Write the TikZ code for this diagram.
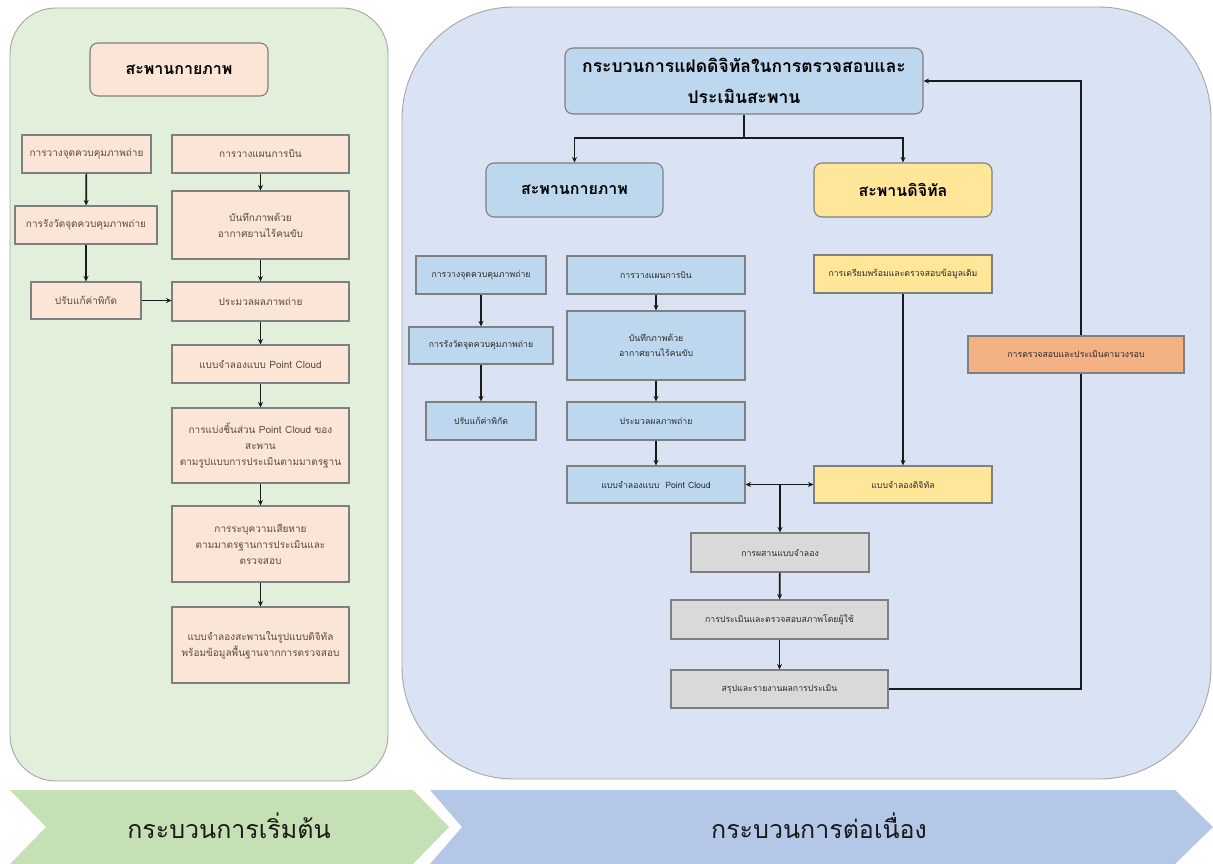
\documentclass[tikz,border=0pt]{standalone}
\usepackage{fontspec}
\setmainfont[Script=Thai]{Loma}
\usetikzlibrary{arrows.meta}
\definecolor{leftpanel}{HTML}{E2EFDA}
\definecolor{rightpanel}{HTML}{DAE3F3}
\definecolor{panelline}{HTML}{A5A5A5}
\definecolor{peach}{HTML}{FBE5D6}
\definecolor{bluebox}{HTML}{BDD7EE}
\definecolor{yellowbox}{HTML}{FFE699}
\definecolor{orangebox}{HTML}{F4B183}
\definecolor{graybox}{HTML}{D9D9D9}
\definecolor{boxline}{HTML}{7F7F7F}
\definecolor{ltext}{HTML}{594A44}
\definecolor{rtext}{HTML}{2A2A2A}
\definecolor{arrowc}{HTML}{1A1A1A}
\definecolor{chevgreen}{HTML}{C5E0B4}
\definecolor{chevblue}{HTML}{B4C7E7}
\tikzset{
  pbox/.style={draw=boxline, line width=1.1pt, fill=peach, text=ltext, align=center, inner sep=2pt, font=\fontsize{10}{16}\selectfont},
  ptitle/.style={pbox, rounded corners=8pt, text=black, font=\bfseries\fontsize{16}{20}\selectfont},
  bbox/.style={draw=boxline, line width=1.1pt, fill=bluebox, text=rtext, align=center, inner sep=2pt, font=\fontsize{8.7}{15}\selectfont},
  btitle/.style={bbox, rounded corners=8pt, text=black, font=\bfseries\fontsize{16}{24}\selectfont},
  ttitle/.style={bbox, rounded corners=8pt, text=black, font=\bfseries\fontsize{17.5}{31}\selectfont},
  ybox/.style={bbox, fill=yellowbox},
  ytitle/.style={btitle, fill=yellowbox},
  obox/.style={bbox, fill=orangebox},
  gbox/.style={bbox, fill=graybox},
  arr/.style={-{Stealth[length=5.5pt,width=5pt]}, line width=1.7pt, draw=arrowc},
  dline/.style={line width=1.7pt, draw=arrowc},
  darr/.style={{Stealth[length=5.5pt,width=5pt]}-{Stealth[length=5.5pt,width=5pt]}, line width=1.7pt, draw=arrowc},
  chevtext/.style={text=black!90, font=\fontsize{25}{30}\selectfont}
}
\begin{document}
\begin{tikzpicture}[x=1pt,y=-1pt]
\useasboundingbox (0,0) rectangle (1213,863);
\fill[white] (0,0) rectangle (1213,863);
% panels
\draw[draw=panelline, line width=0.9pt, fill=leftpanel, rounded corners=46pt] (10,8) rectangle (388,781);
\draw[draw=panelline, line width=0.9pt, fill=rightpanel, rounded corners=112pt] (402,7) rectangle (1211,779);
% chevrons
\fill[chevgreen] (10,790) -- (413,790) -- (449,827) -- (413,864) -- (10,864) -- (46,827) -- cycle;
\fill[chevblue] (430,790) -- (1175,790) -- (1213,827) -- (1175,864) -- (430,864) -- (462,827) -- cycle;
\node[chevtext] (start) at (229,826) {กระบวนการเริ่มต้น};
\node[chevtext] (cont) at (819,826) {กระบวนการต่อเนื่อง};

% ===== left panel =====
\node[ptitle, minimum width=178pt, minimum height=53pt] (Lt) at (179,69.5) {สะพานกายภาพ};
\node[pbox, minimum width=129pt, minimum height=38pt] (L1) at (86.5,154) {การวางจุดควบคุมภาพถ่าย};
\node[pbox, minimum width=142pt, minimum height=38pt] (L2) at (86,225) {การรังวัดจุดควบคุมภาพถ่าย};
\node[pbox, minimum width=110pt, minimum height=37pt] (L3) at (86,300.5) {ปรับแก้ค่าพิกัด};
\node[pbox, minimum width=177pt, minimum height=38pt] (R1) at (260.5,154) {การวางแผนการบิน};
\node[pbox, minimum width=177pt, minimum height=68pt] (R2) at (260.5,225) {บันทึกภาพด้วย\\อากาศยานไร้คนขับ};
\node[pbox, minimum width=177pt, minimum height=39pt] (R3) at (260.5,301.5) {ประมวลผลภาพถ่าย};
\node[pbox, minimum width=177pt, minimum height=38pt] (R4) at (260.5,364) {แบบจำลองแบบ Point Cloud};
\node[pbox, minimum width=177pt, minimum height=75pt] (R5) at (260.5,445.5) {การแบ่งชิ้นส่วน Point Cloud ของ\\สะพาน\\ตามรูปแบบการประเมินตามมาตรฐาน};
\node[pbox, minimum width=177pt, minimum height=76pt] (R6) at (260.5,544) {การระบุความเสียหาย\\ตามมาตรฐานการประเมินและ\\ตรวจสอบ};
\node[pbox, minimum width=177pt, minimum height=76pt] (R7) at (260.5,645) {แบบจำลองสะพานในรูปแบบดิจิทัล\\พร้อมข้อมูลพื้นฐานจากการตรวจสอบ};
\draw[arr] (L1) -- (L2);
\draw[arr] (L2) -- (L3);
\draw[arr] (R1) -- (R2);
\draw[arr] (R2) -- (R3);
\draw[arr] (R3) -- (R4);
\draw[arr] (R4) -- (R5);
\draw[arr] (R5) -- (R6);
\draw[arr] (R6) -- (R7);
\draw[arr] (L3.east) -- (R3.west |- L3.east);

% ===== right panel =====
\node[ttitle, minimum width=358pt, minimum height=66pt] (T) at (744,81) {กระบวนการแฝดดิจิทัลในการตรวจสอบและ\\ประเมินสะพาน};
\node[btitle, minimum width=177pt, minimum height=54pt] (P) at (574.5,190) {สะพานกายภาพ};
\node[ytitle, minimum width=178pt, minimum height=54pt] (D) at (903,190) {สะพานดิจิทัล};
\coordinate (br) at (744,138);
\draw[dline] (T.south) -- (br);
\draw[arr] (br) -| (P.north);
\draw[arr] (br) -| (D.north);

\node[bbox, minimum width=130pt, minimum height=38pt] (a1) at (481,275) {การวางจุดควบคุมภาพถ่าย};
\node[bbox, minimum width=144pt, minimum height=37pt] (a2) at (481,345.5) {การรังวัดจุดควบคุมภาพถ่าย};
\node[bbox, minimum width=110pt, minimum height=38pt] (a3) at (481,421) {ปรับแก้ค่าพิกัด};
\node[bbox, minimum width=178pt, minimum height=38pt] (b1) at (656,275) {การวางแผนการบิน};
\node[bbox, minimum width=178pt, minimum height=69pt] (b2) at (656,345.5) {บันทึกภาพด้วย\\อากาศยานไร้คนขับ};
\node[bbox, minimum width=178pt, minimum height=38pt] (b3) at (656,421) {ประมวลผลภาพถ่าย};
\node[bbox, minimum width=178pt, minimum height=37pt] (b4) at (656,484.5) {แบบจำลองแบบ\ \ Point Cloud};
\node[ybox, minimum width=178pt, minimum height=38pt] (c1) at (903,274) {การเตรียมพร้อมและตรวจสอบข้อมูลเดิม};
\node[ybox, minimum width=178pt, minimum height=37pt] (c2) at (903,484.5) {แบบจำลองดิจิทัล};
\node[gbox, minimum width=178pt, minimum height=39pt] (m1) at (780,552.5) {การผสานแบบจำลอง};
\node[gbox, minimum width=217pt, minimum height=39pt] (m2) at (779.5,619.5) {การประเมินและตรวจสอบสภาพโดยผู้ใช้};
\node[gbox, minimum width=217pt, minimum height=38pt] (m3) at (779.5,689) {สรุปและรายงานผลการประเมิน};
\node[obox, minimum width=216pt, minimum height=37pt] (o) at (1076,354.5) {การตรวจสอบและประเมินตามวงรอบ};

\draw[arr] (a1) -- (a2);
\draw[arr] (a2) -- (a3);
\draw[arr] (b1) -- (b2);
\draw[arr] (b2) -- (b3);
\draw[arr] (b3) -- (b4);
\draw[arr] (c1) -- (c2);
\draw[darr] (b4.east) -- (c2.west);
\coordinate (jn) at (780,484.5);
\draw[arr] (jn) -- (m1.north);
\draw[arr] (m1) -- (m2);
\draw[arr] (m2) -- (m3);
\coordinate (k) at (1081,0);
\draw[dline] (m3.east) -- (m3.east -| k) -- (k |- o.south);
\draw[arr] (k |- o.north) -- (k |- T.east) -- (T.east);
\end{tikzpicture}
\end{document}
